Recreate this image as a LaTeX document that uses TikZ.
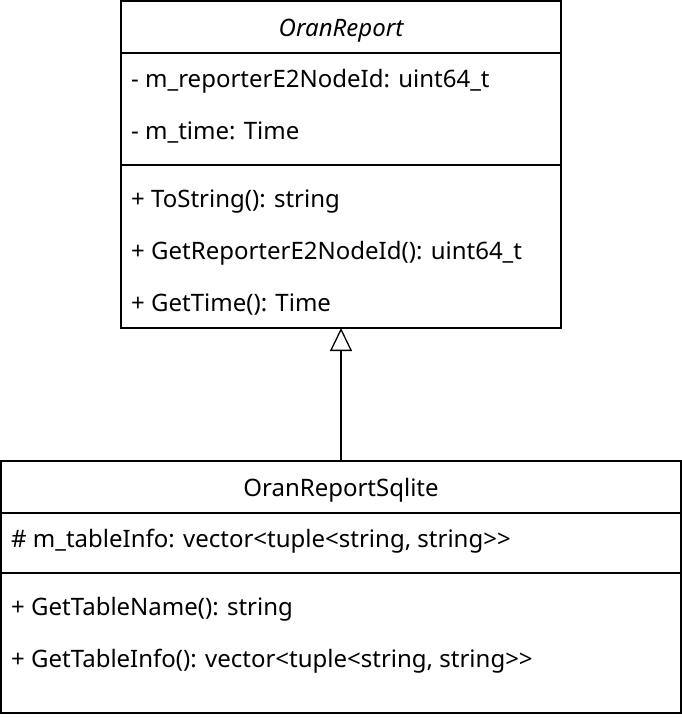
\documentclass[tikz,border=0pt]{standalone}
\usepackage{fontspec}
\setmainfont{Noto Sans}
\usetikzlibrary{positioning, arrows.meta, calc}

\begin{document}
\begin{tikzpicture}[
            x=1pt, y=-1pt,
            >={Triangle[open, length=23pt, width=22pt]},
            box/.style={draw, line width=1.3pt, rectangle, outer sep=0pt, inner sep=0pt},
            member/.style={anchor=base west, inner sep=0pt, font=\fontsize{24}{28}\selectfont},
            title/.style={anchor=base, inner sep=0pt, font=\fontsize{24}{28}\selectfont},
        ]
            \useasboundingbox (0,0) rectangle (682,720);
            \def\rowh{52};
            \def\inset{10};

            % OranReport class
            \node[box, minimum width=440pt, minimum height=52pt, anchor=north west] (report-head) at (121,1) {};
            \node[box, minimum width=440pt, minimum height=112pt, below=0pt of report-head] (report-attr) {};
            \node[box, minimum width=440pt, minimum height=163pt, below=0pt of report-attr] (report-ops) {};
            \node[title] (report-name) at ($(report-head.center)+(0,9)$) {\itshape OranReport};

            \foreach \txt [count=\i] in {{- m\_reporterE2NodeId: uint64\_t}, {- m\_time: Time}}
                \node[member] (report-attr-\i) at ($(report-attr.north west)+(\inset,26+8+\i*\rowh-\rowh)$) {\txt};

            \foreach \txt [count=\i] in {{+ ToString(): string}, {+ GetReporterE2NodeId(): uint64\_t}, {+ GetTime(): Time}}
                \node[member] (report-op-\i) at ($(report-ops.north west)+(\inset,34+8+\i*\rowh-\rowh)$) {\txt};

            % OranReportSqlite class
            \node[box, minimum width=680pt, minimum height=52pt, anchor=north west] (sqlite-head) at (1,461) {};
            \node[box, minimum width=680pt, minimum height=60pt, below=0pt of sqlite-head] (sqlite-attr) {};
            \node[box, minimum width=680pt, minimum height=140pt, below=0pt of sqlite-attr] (sqlite-ops) {};
            \node[title] (sqlite-name) at ($(sqlite-head.center)+(0,9)$) {OranReportSqlite};

            \node[member] (sqlite-attr-1) at ($(sqlite-attr.north west)+(\inset,26+8)$) {\# m\_tableInfo: vector<tuple<string, string>{}>};

            \foreach \txt [count=\i] in {{+ GetTableName(): string}, {+ GetTableInfo(): vector<tuple<string, string>{}>}}
                \node[member] (sqlite-op-\i) at ($(sqlite-ops.north west)+(\inset,34+8+\i*\rowh-\rowh)$) {\txt};

            % Generalization
            \draw[->, line width=1.3pt] (sqlite-head.north) -- (report-ops.south);
\end{tikzpicture}
\end{document}
